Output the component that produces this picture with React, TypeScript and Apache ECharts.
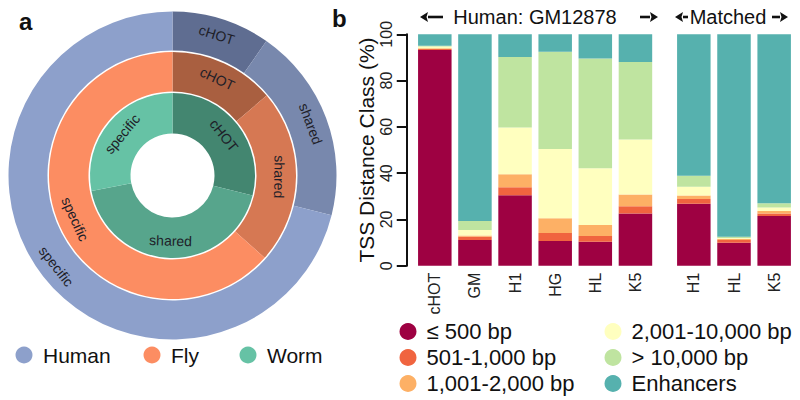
import React, { useEffect, useRef } from "react";
import * as echarts from "echarts";

// ---------- Panel a: donut rings ----------
const ringParts = ["cHOT", "shared", "specific"];
const humanValues = [9.7, 19.2, 71.1];
const flyValues = [13.8, 22.8, 63.4];
const wormValues = [28.9, 43.1, 28.0];
const humanColors = ["#5f6d91", "#7888ad", "#8da0cb"];
const flyColors = ["#a95f40", "#d67853", "#fc8d62"];
const wormColors = ["#438670", "#57a58c", "#66c2a5"];
const speciesNames = ["Human", "Fly", "Worm"];
const speciesColors = ["#8da0cb", "#fc8d62", "#66c2a5"];

// ---------- Panel b: stacked bars ----------
const humanCats = ["cHOT", "GM", "H1", "HG", "HL", "K5"];
const matchedCats = ["H1", "HL", "K5"];
const classNames = [
  "≤ 500 bp",
  "501-1,000 bp",
  "1,001-2,000 bp",
  "2,001-10,000 bp",
  "> 10,000 bp",
  "Enhancers",
];
const classColors = ["#9e0142", "#f0643f", "#fdb065", "#ffffbf", "#bfe4a0", "#56b1ae"];
// values per class: human (6 bars)
const humanLe500 = [93.2, 11.1, 30.4, 10.7, 10.4, 22.6];
const human501to1k = [0.4, 1.4, 3.5, 3.4, 2.4, 3.1];
const human1kto2k = [0.4, 0.5, 5.6, 6.4, 4.8, 5.1];
const human2kto10k = [0.7, 2.4, 20.2, 29.9, 24.5, 23.7];
const humanGt10k = [0.4, 3.9, 30.5, 42.1, 47.4, 33.5];
const humanEnh = [4.9, 80.7, 9.8, 7.5, 10.5, 12.0];
// matched (3 bars)
const matchedLe500 = [26.8, 9.9, 21.5];
const matched501to1k = [2.0, 1.2, 1.1];
const matched1kto2k = [1.5, 0.5, 1.0];
const matched2kto10k = [3.8, 0.4, 1.5];
const matchedGt10k = [4.8, 0.5, 1.9];
const matchedEnh = [61.1, 87.5, 73.0];
const yTicks = [0, 20, 40, 60, 80, 100];

const FONT = "Liberation Sans";

function pieData(values: number[], colors: string[]) {
  const total = values.reduce((a, b) => a + b, 0);
  let cum = 0;
  return values.map((v, i) => {
    const mid = ((cum + v / 2) / total) * 360;
    cum += v;
    const flip = mid > 100 && mid < 260;
    const rot = flip ? 180 - mid : -mid;
    return {
      name: ringParts[i],
      value: v,
      itemStyle: { color: colors[i] },
      label: { rotate: rot },
    };
  });
}

function arrow(head: number, tail: number, y: number) {
  const dir = head < tail ? -1 : 1;
  const hl = 8;
  const hw = 5;
  const base = head - dir * hl;
  return {
    type: "group",
    children: [
      { type: "line", shape: { x1: tail, y1: y, x2: base, y2: y }, style: { stroke: "#111", lineWidth: 2.6 } },
      {
        type: "polygon",
        shape: { points: [[head, y], [base, y - hw], [base + dir * 1.5, y], [base, y + hw]] },
        style: { fill: "#111" },
      },
    ],
  };
}

export default function App() {
  const ref = useRef<HTMLDivElement>(null);
  useEffect(() => {
    const chart = echarts.init(ref.current!, undefined, { renderer: "svg" });
    const center = [172.5, 175.5];
    const pieBase = (name: string, radius: number[], values: number[], colors: string[]) => ({
      type: "pie",
      name,
      center,
      radius,
      startAngle: 90,
      clockwise: true,
      silent: true,
      label: {
        show: true,
        position: "inside",
        formatter: "{b}",
        fontFamily: FONT,
        fontSize: 14,
        color: "#1e1e28",
      },
      labelLine: { show: false },
      itemStyle: { borderWidth: 0 },
      emphasis: { disabled: true },
      data: pieData(values, colors),
    });

    const humanSets = [humanLe500, human501to1k, human1kto2k, human2kto10k, humanGt10k, humanEnh];
    const matchedSets = [matchedLe500, matched501to1k, matched1kto2k, matched2kto10k, matchedGt10k, matchedEnh];
    const barSeries: any[] = [];
    classNames.forEach((n, i) => {
      barSeries.push({
        type: "bar",
        name: n,
        xAxisIndex: 0,
        yAxisIndex: 0,
        stack: "human",
        barWidth: 33.5,
        itemStyle: { color: classColors[i] },
        silent: true,
        data: humanSets[i],
      });
      barSeries.push({
        type: "bar",
        name: n,
        xAxisIndex: 1,
        yAxisIndex: 1,
        stack: "matched",
        barWidth: 33.5,
        itemStyle: { color: classColors[i] },
        silent: true,
        data: matchedSets[i],
      });
    });

    const legendCommon = {
      orient: "vertical",
      icon: "circle",
      itemWidth: 17,
      itemHeight: 17,
      itemGap: 4,
      padding: 0,
      height: 90,
      selectedMode: false,
      textStyle: { fontFamily: FONT, fontSize: 22, lineHeight: 17, color: "#111", padding: [0, 0, 0, 5] },
    };

    const graphics: any[] = [
      { type: "text", left: 19, top: 9, style: { text: "a", font: `bold 24px ${FONT}`, fill: "#111" } },
      { type: "text", left: 332, top: 6, style: { text: "b", font: `bold 24px ${FONT}`, fill: "#111" } },
      arrow(420, 443, 17),
      { type: "text", x: 535, y: 17, style: { text: "Human: GM12878", font: `20px ${FONT}`, fill: "#111", align: "center", verticalAlign: "middle" } },
      arrow(658, 640, 17),
      arrow(675, 688, 17),
      { type: "text", x: 728, y: 17, style: { text: "Matched", font: `20px ${FONT}`, fill: "#111", align: "center", verticalAlign: "middle" } },
      arrow(788, 772, 17),
    ];
    const legendX = [24, 152, 248];
    speciesNames.forEach((s, i) => {
      graphics.push({ type: "circle", shape: { cx: legendX[i], cy: 355, r: 8.5 }, style: { fill: speciesColors[i] } });
      graphics.push({
        type: "text",
        x: legendX[i] + 19,
        y: 355,
        style: { text: s, font: `21px ${FONT}`, fill: "#111", verticalAlign: "middle" },
      });
    });

    chart.setOption({
      animation: false,
      textStyle: { fontFamily: FONT },
      grid: [
        { left: 414.75, top: 34.3, width: 240.75, height: 231.4 },
        { left: 673.75, top: 34.3, width: 120.5, height: 231.4 },
      ],
      xAxis: [
        {
          type: "category",
          gridIndex: 0,
          data: humanCats,
          axisLine: { show: false },
          axisTick: { show: false },
          axisLabel: { rotate: 90, margin: 7, fontSize: 16, color: "#222", fontFamily: FONT },
        },
        {
          type: "category",
          gridIndex: 1,
          data: matchedCats,
          axisLine: { show: false },
          axisTick: { show: false },
          axisLabel: { rotate: 90, margin: 7, fontSize: 16, color: "#222", fontFamily: FONT },
        },
      ],
      yAxis: [
        {
          type: "value",
          gridIndex: 0,
          min: yTicks[0],
          max: yTicks[yTicks.length - 1],
          interval: yTicks[1] - yTicks[0],
          offset: 8,
          splitLine: { show: false },
          axisLine: { show: true, lineStyle: { color: "#111", width: 2 } },
          axisTick: { show: true, length: 10, lineStyle: { color: "#111", width: 2 } },
          axisLabel: { rotate: 90, margin: 12, fontSize: 16, color: "#222", fontFamily: FONT },
          name: "TSS Distance Class (%)",
          nameLocation: "middle",
          nameRotate: 90,
          nameGap: 30,
          nameTextStyle: { fontSize: 21, color: "#111", fontFamily: FONT },
        },
        {
          type: "value",
          gridIndex: 1,
          min: 0,
          max: 100,
          show: false,
          splitLine: { show: false },
        },
      ],
      legend: [
        { ...legendCommon, left: 399.5, top: 320.5, data: classNames.slice(0, 3) },
        { ...legendCommon, left: 604.5, top: 320.5, data: classNames.slice(3) },
      ],
      graphic: graphics,
      series: [
        pieBase("Human", [125, 164], humanValues, humanColors),
        pieBase("Fly", [84, 123.5], flyValues, flyColors),
        pieBase("Worm", [42, 82.5], wormValues, wormColors),
        ...barSeries,
      ],
    });
    return () => chart.dispose();
  }, []);
  return <div ref={ref} style={{ width: 800, height: 400, position: "absolute", left: 0, top: 0 }} />;
}
